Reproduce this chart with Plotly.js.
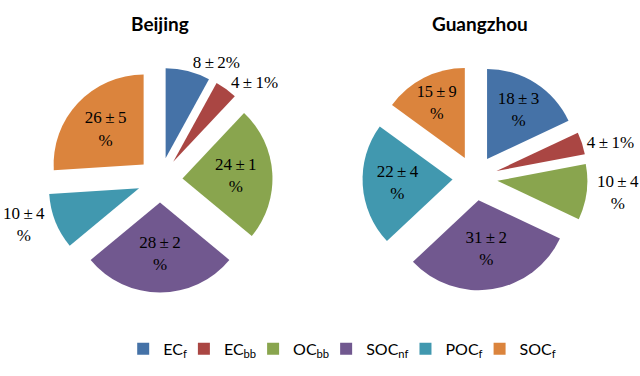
<!DOCTYPE html>
<html>
<head>
<meta charset="utf-8">
<script src="https://cdn.plot.ly/plotly-3.0.1.min.js"></script>
<style>html,body{margin:0;padding:0;background:#fff;}#chart{width:640px;height:376px;}</style>
</head>
<body>
<div id="chart"></div>
<script>
const categories = ['EC<sub>f</sub>', 'EC<sub>bb</sub>', 'OC<sub>bb</sub>', 'SOC<sub>nf</sub>', 'POC<sub>f</sub>', 'SOC<sub>f</sub>'];
const beijingMean = [8, 4, 24, 28, 10, 26];
const beijingErr = [2, 1, 1, 2, 4, 5];
const guangzhouMean = [18, 4, 10, 31, 22, 15];
const guangzhouErr = [3, 1, 4, 2, 4, 9];
const colors = ['#4572A7', '#AA4643', '#89A54E', '#71588F', '#4198AF', '#DB843D'];

const bjPos = ['outside', 'outside', 'inside', 'inside', 'outside', 'inside'];
const bjWrap = [false, false, true, true, true, true];
const gzPos = ['inside', 'outside', 'outside', 'inside', 'inside', 'inside'];
const gzWrap = [true, false, true, true, true, true];

function mkText(m, e, wrap) {
  return m.map((v, i) => v + '\u2009±\u2009' + e[i] + (wrap[i] ? '<br>%' : '%'));
}

const labelFont = {family: 'Liberation Serif, serif', size: 17, color: '#000'};

const common = {
  type: 'pie',
  labels: categories,
  sort: false,
  direction: 'clockwise',
  rotation: 0,
  pull: 0.25,
  textinfo: 'text',
  hoverinfo: 'none',
  insidetextorientation: 'horizontal',
  marker: {colors: colors, line: {width: 0}},
  textfont: labelFont,
  insidetextfont: labelFont,
  outsidetextfont: labelFont
};

const data = [
  Object.assign({}, common, {
    values: beijingMean,
    text: mkText(beijingMean, beijingErr, bjWrap),
    textposition: bjPos,
    domain: {x: [0.0742, 0.4258], y: [0.222, 0.8205]}
  }),
  Object.assign({}, common, {
    values: guangzhouMean,
    text: mkText(guangzhouMean, guangzhouErr, gzWrap),
    textposition: gzPos,
    domain: {x: [0.5664, 0.9180], y: [0.2274, 0.8258]},
    showlegend: false
  })
];

const layout = {
  width: 640, height: 376,
  margin: {l: 0, r: 0, t: 0, b: 0},
  paper_bgcolor: '#fff',
  showlegend: true,
  legend: {
    orientation: 'h', x: 0.205, xanchor: 'left', y: 0.072, yanchor: 'middle',
    font: {family: 'Lato, sans-serif', size: 16, color: '#000'},
    itemwidth: 30, indentation: -8
  },
  annotations: [
    {text: '<b>Beijing</b>', x: 0.25, y: 1 - 23/376, xref: 'paper', yref: 'paper', xanchor: 'center', yanchor: 'middle', showarrow: false,
     font: {family: 'Lato, sans-serif', size: 19, color: '#000'}},
    {text: '<b>Guangzhou</b>', x: 0.75, y: 1 - 23/376, xref: 'paper', yref: 'paper', xanchor: 'center', yanchor: 'middle', showarrow: false,
     font: {family: 'Lato, sans-serif', size: 19, color: '#000'}}
  ]
};

Plotly.newPlot('chart', data, layout, {displayModeBar: false, staticPlot: true});
</script>
</body>
</html>
